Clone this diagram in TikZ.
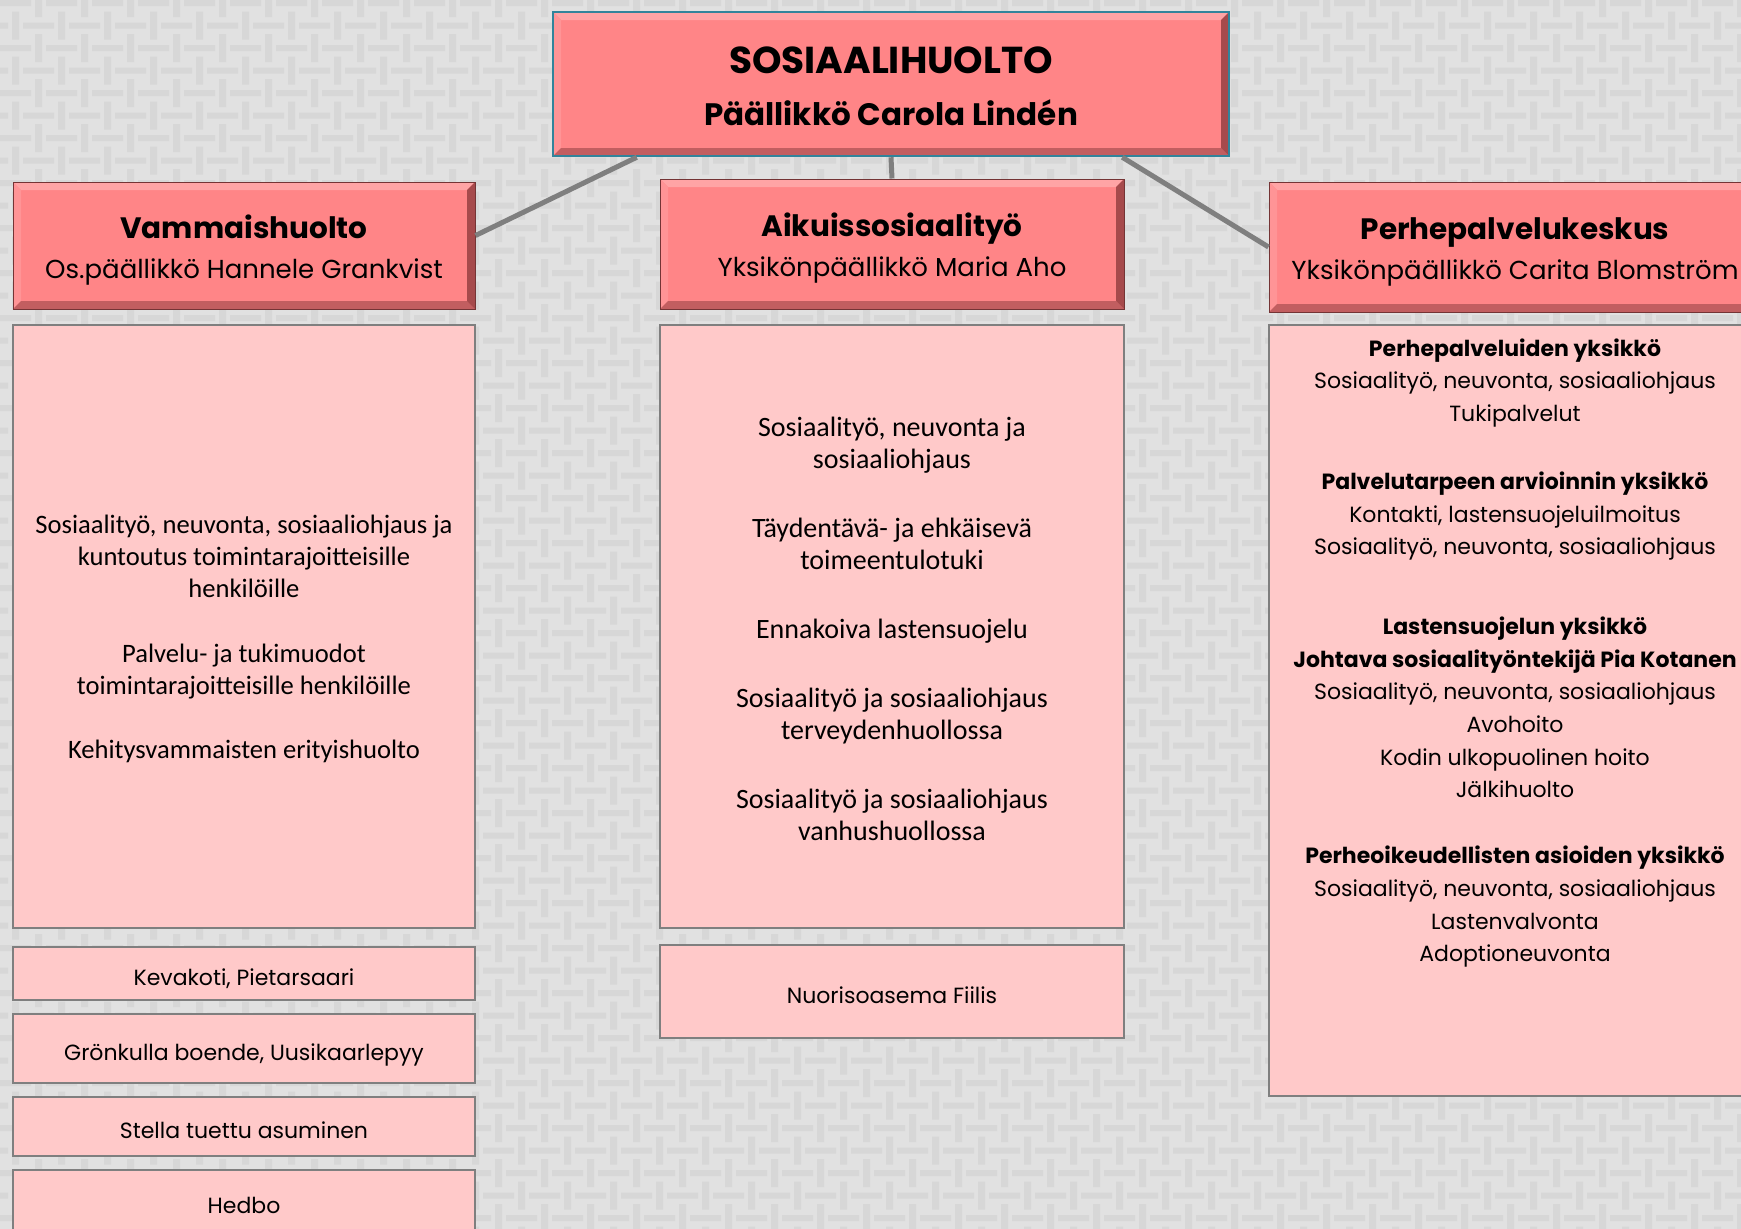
\documentclass[tikz,border=0pt]{standalone}
\usepackage{fontspec}
\setmainfont{Poppins}
\newfontfamily\calibri{Carlito}
\usetikzlibrary{calc}

\definecolor{bgbase}{HTML}{E1E1E1}
\definecolor{bgbar}{HTML}{D7D7D7}
\definecolor{headfill}{HTML}{FF8587}
\definecolor{headlight}{HTML}{FFA4A5}
\definecolor{headdark}{HTML}{C25E60}
\definecolor{headshade}{HTML}{A64A4C}
\definecolor{bodyfill}{HTML}{FFC9C9}
\definecolor{bodyline}{HTML}{7F7F7F}
\definecolor{topline}{HTML}{31849B}
\definecolor{linkline}{HTML}{7F7F7F}

\begin{document}
\begin{tikzpicture}[x=1pt,y=-1pt,
        bevel/.style={path picture={
            \path (path picture bounding box.north west) coordinate (p1)
                  (path picture bounding box.north east) coordinate (p2)
                  (path picture bounding box.south east) coordinate (p3)
                  (path picture bounding box.south west) coordinate (p4);
            \fill[headlight] (p1) -- (p2) -- ([shift={(-8,8)}]p2) -- ([shift={(8,8)}]p1) -- cycle;
            \fill[headlight!50!headfill] (p1) -- (p4) -- ([shift={(8,-8)}]p4) -- ([shift={(8,8)}]p1) -- cycle;
            \fill[headdark] (p4) -- (p3) -- ([shift={(-8,-8)}]p3) -- ([shift={(8,-8)}]p4) -- cycle;
            \fill[headshade] (p2) -- (p3) -- ([shift={(-8,-8)}]p3) -- ([shift={(-8,8)}]p2) -- cycle;
        }},
        head/.style={bevel,fill=headfill,draw=headshade!70!black,line width=1pt,inner sep=0pt},
        body/.style={fill=bodyfill,draw=bodyline,line width=2.5pt,inner sep=0pt,align=center},
        link/.style={draw=linkline,line width=5pt},
        headtitle/.style={font=\fontsize{29.5}{40}\selectfont,align=center},
        unittext/.style={font=\fontsize{22}{32.7}\selectfont,align=center},
        listtext/.style={font=\calibri\fontsize{26.6}{32.2}\selectfont,align=center},
        smalltext/.style={font=\fontsize{22}{26}\selectfont,text height=28pt,text depth=4pt}]

    % background
    \useasboundingbox (0,0) rectangle (1741,1229);
    \fill[bgbase] (0,0) rectangle (1741,1229);
    \fill[bgbar] \foreach \i in {-1,...,38} {
            \foreach \j [evaluate=\j as \off using {23*mod(\j,2)}] in {0,...,55} {
                (46*\i+\off,22.5*\j) rectangle ++(31,6)
                (46*\i+\off+35,22.5*\j-11) rectangle ++(7,28)
            }
        };

    % top
    \node[head,draw=topline,line width=2.5pt,minimum width=676pt,minimum height=144pt] (top) at (891,84) {};
    \node[font=\fontsize{31}{52}\selectfont\bfseries,align=center] (toplabel) at ($(top)+(0,2.5)$)
        {{\fontsize{37.5}{52}\selectfont SOSIAALIHUOLTO}\\Päällikkö Carola Lindén};

    % units
    \node[head,minimum width=462pt,minimum height=127pt] (vam) at (244,245.5) {};
    \node[head,minimum width=464pt,minimum height=130pt] (aik) at (892,244) {};
    \node[head,minimum width=492pt,minimum height=130pt] (per) at (1515,247) {};
    \node[headtitle] (vamlabel) at ($(vam)+(0,5)$)
        {{\bfseries Vammaishuolto}\\{\fontsize{26}{40}\selectfont Os.päällikkö Hannele Grankvist}};
    \node[headtitle] (aiklabel) at ($(aik)+(0,4)$)
        {{\bfseries Aikuissosiaalityö}\\{\fontsize{26}{40}\selectfont Yksikönpäällikkö Maria Aho}};
    \node[headtitle] (perlabel) at ($(per)+(0,5)$)
        {{\bfseries Perhepalvelukeskus}\\{\fontsize{26}{40}\selectfont Yksikönpäällikkö Carita Blomström}};

    \draw[link] ($(top.south west)+(85,0)$) -- ($(vam.east)+(0,-10)$);
    \draw[link] (top.south) -- (aik.north);
    \draw[link] ($(top.south east)+(-108,0)$) -- (per.west);

    % bodies
    \node[body,minimum width=462pt,minimum height=603pt] (vambody) at (244,626.5) {};
    \node[body,minimum width=464pt,minimum height=603pt] (aikbody) at (892,626.5) {};
    \node[body,minimum width=492pt,minimum height=771pt] (perbody) at (1515,710.5) {};

    \node[listtext] (vamlist) at (244,639) {Sosiaalityö, neuvonta, sosiaaliohjaus ja\\kuntoutus toimintarajoitteisille\\henkilöille\\[32.2pt]
        Palvelu- ja tukimuodot\\toimintarajoitteisille henkilöille\\[32.2pt]
        Kehitysvammaisten erityishuolto};
    \node[listtext,font=\calibri\fontsize{28}{32.2}\selectfont] (aiklist) at (892,629) {Sosiaalityö, neuvonta ja\\sosiaaliohjaus\\[36.6pt]
        Täydentävä- ja ehkäisevä\\toimeentulotuki\\[36.6pt]
        Ennakoiva lastensuojelu\\[36.6pt]
        Sosiaalityö ja sosiaaliohjaus\\terveydenhuollossa\\[36.6pt]
        Sosiaalityö ja sosiaaliohjaus\\vanhushuollossa};
    \node[unittext] (perlist) at (1515,653) {{\bfseries Perhepalveluiden yksikkö}\\Sosiaalityö, neuvonta, sosiaaliohjaus\\Tukipalvelut\\[35pt]
        {\bfseries Palvelutarpeen arvioinnin yksikkö}\\Kontakti, lastensuojeluilmoitus\\Sosiaalityö, neuvonta, sosiaaliohjaus\\[47pt]
        {\bfseries Lastensuojelun yksikkö}\\{\bfseries Johtava sosiaalityöntekijä Pia Kotanen}\\Sosiaalityö, neuvonta, sosiaaliohjaus\\Avohoito\\Kodin ulkopuolinen hoito\\Jälkihuolto\\[33pt]
        {\bfseries Perheoikeudellisten asioiden yksikkö}\\Sosiaalityö, neuvonta, sosiaaliohjaus\\Lastenvalvonta\\Adoptioneuvonta};

    % places
    \node[body,smalltext,minimum width=462pt,minimum height=53pt] (kevakoti) at (244,973.5) {Kevakoti, Pietarsaari};
    \node[body,smalltext,minimum width=462pt,minimum height=69pt] (gronkulla) at (244,1048.5) {Grönkulla boende, Uusikaarlepyy};
    \node[body,smalltext,minimum width=462pt,minimum height=59pt] (stella) at (244,1126.5) {Stella tuettu asuminen};
    \node[body,smalltext,minimum width=462pt,minimum height=62pt] (hedbo) at (244,1201) {Hedbo};
    \node[body,smalltext,minimum width=464pt,minimum height=93pt] (fiilis) at (892,991.5) {Nuorisoasema Fiilis};
\end{tikzpicture}
\end{document}
